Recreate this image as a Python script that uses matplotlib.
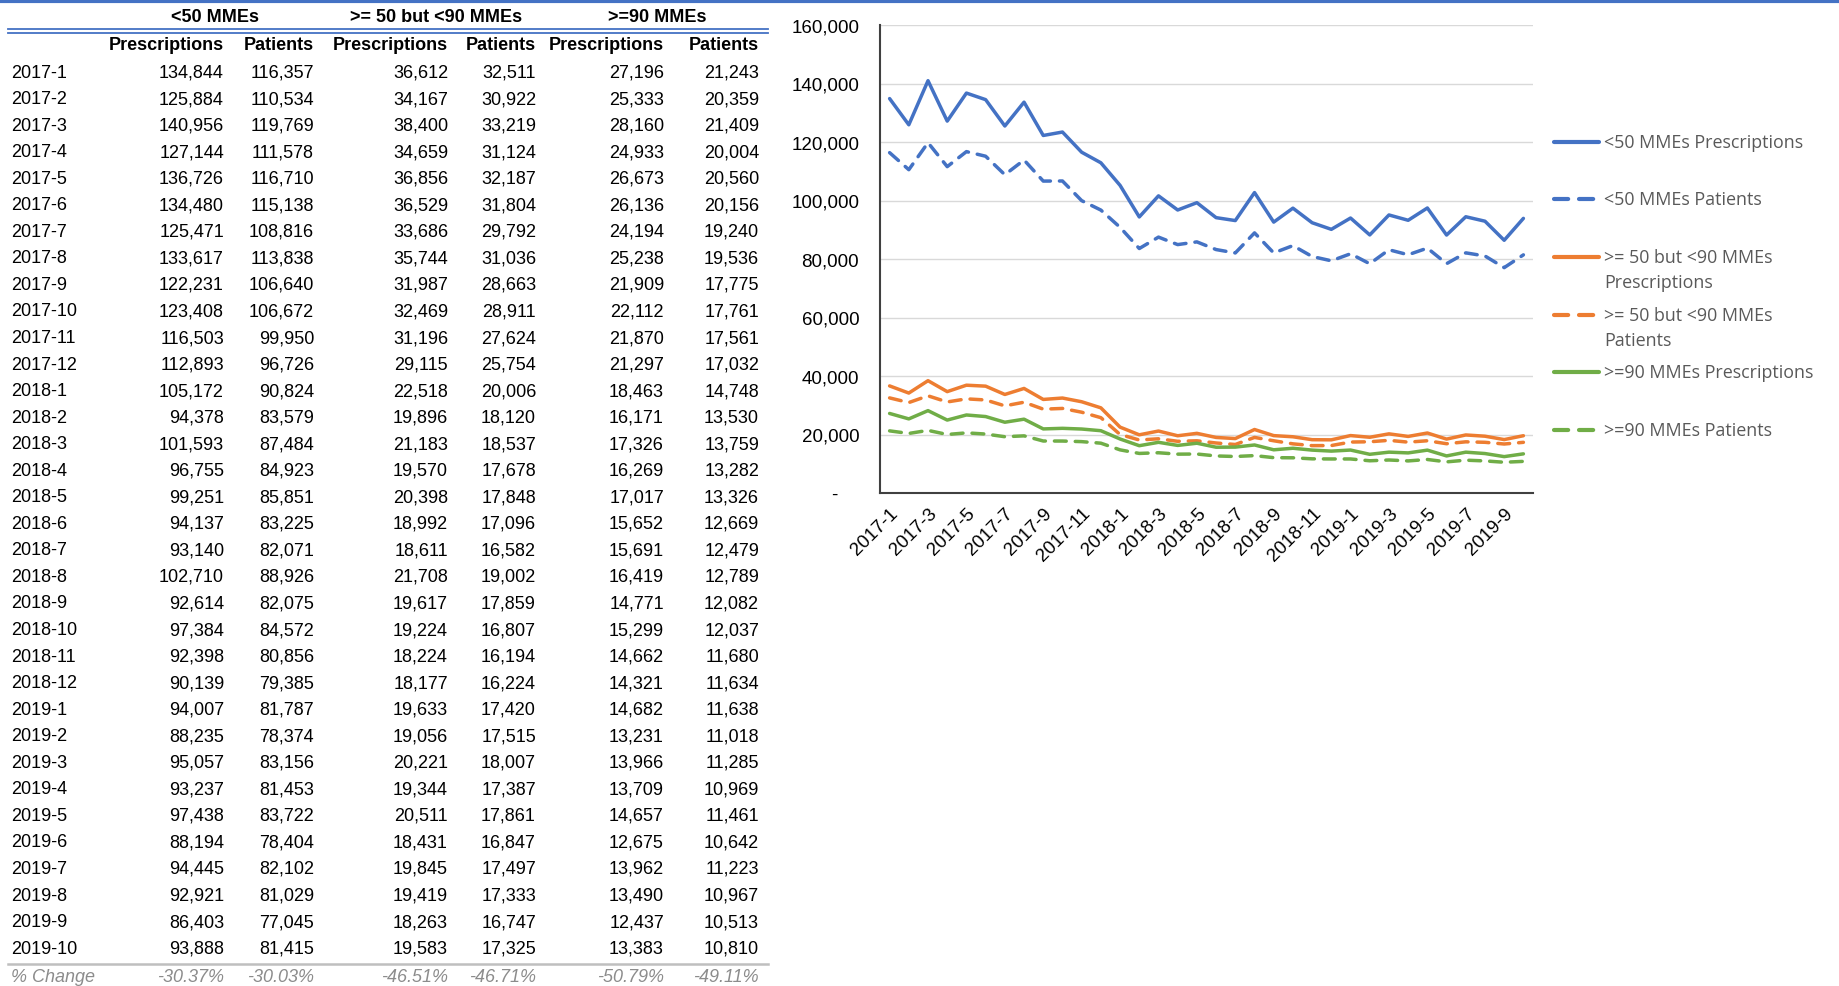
import matplotlib.pyplot as plt
from matplotlib.lines import Line2D
from matplotlib.ticker import FuncFormatter

# Months 2017-1 .. 2019-10
months = ([f"2017-{m}" for m in range(1, 13)] + [f"2018-{m}" for m in range(1, 13)]
          + [f"2019-{m}" for m in range(1, 11)])

lt50_rx = [134844, 125884, 140956, 127144, 136726, 134480, 125471, 133617, 122231, 123408, 116503, 112893,
           105172, 94378, 101593, 96755, 99251, 94137, 93140, 102710, 92614, 97384, 92398, 90139,
           94007, 88235, 95057, 93237, 97438, 88194, 94445, 92921, 86403, 93888]
lt50_pt = [116357, 110534, 119769, 111578, 116710, 115138, 108816, 113838, 106640, 106672, 99950, 96726,
           90824, 83579, 87484, 84923, 85851, 83225, 82071, 88926, 82075, 84572, 80856, 79385,
           81787, 78374, 83156, 81453, 83722, 78404, 82102, 81029, 77045, 81415]
mid_rx = [36612, 34167, 38400, 34659, 36856, 36529, 33686, 35744, 31987, 32469, 31196, 29115,
          22518, 19896, 21183, 19570, 20398, 18992, 18611, 21708, 19617, 19224, 18224, 18177,
          19633, 19056, 20221, 19344, 20511, 18431, 19845, 19419, 18263, 19583]
mid_pt = [32511, 30922, 33219, 31124, 32187, 31804, 29792, 31036, 28663, 28911, 27624, 25754,
          20006, 18120, 18537, 17678, 17848, 17096, 16582, 19002, 17859, 16807, 16194, 16224,
          17420, 17515, 18007, 17387, 17861, 16847, 17497, 17333, 16747, 17325]
hi_rx = [27196, 25333, 28160, 24933, 26673, 26136, 24194, 25238, 21909, 22112, 21870, 21297,
         18463, 16171, 17326, 16269, 17017, 15652, 15691, 16419, 14771, 15299, 14662, 14321,
         14682, 13231, 13966, 13709, 14657, 12675, 13962, 13490, 12437, 13383]
hi_pt = [21243, 20359, 21409, 20004, 20560, 20156, 19240, 19536, 17775, 17761, 17561, 17032,
         14748, 13530, 13759, 13282, 13326, 12669, 12479, 12789, 12082, 12037, 11680, 11634,
         11638, 11018, 11285, 10969, 11461, 10642, 11223, 10967, 10513, 10810]

pct_change = ["-30.37%", "-30.03%", "-46.51%", "-46.71%", "-50.79%", "-49.11%"]
groups = ["<50 MMEs", ">= 50 but <90 MMEs", ">=90 MMEs"]
subheads = ["Prescriptions", "Patients"] * 3
legend_labels = ["<50 MMEs Prescriptions", "<50 MMEs Patients",
                 ">= 50 but <90 MMEs\nPrescriptions", ">= 50 but <90 MMEs\nPatients",
                 ">=90 MMEs Prescriptions", ">=90 MMEs Patients"]

BLUE, ORANGE, GREEN = "#4472C4", "#ED7D31", "#70AD47"
W, H = 1839, 987
TFONT = "Liberation Sans"
FS = 13

fig = plt.figure(figsize=(W / 100, H / 100), dpi=100)


def fx(px):
    return px / W


def fy(py):
    return 1 - py / H


# blue strip at top of sheet
fig.add_artist(Line2D([0, 1], [fy(1.5), fy(1.5)], color=BLUE, lw=3, transform=fig.transFigure))

# ---- table ----
col_right = [224, 314, 448, 536, 664, 759]
group_centers = [215, 436, 657]
for g, cx in zip(groups, group_centers):
    fig.text(fx(cx), fy(17), g, ha="center", va="center", fontsize=FS,
             fontweight="bold", family=TFONT)
for yy in (29.5, 33.5):
    fig.add_artist(Line2D([fx(8), fx(768)], [fy(yy), fy(yy)], color=BLUE, lw=1.3,
                          transform=fig.transFigure))
for s, cx in zip(subheads, col_right):
    fig.text(fx(cx), fy(45), s, ha="right", va="center", fontsize=FS,
             fontweight="bold", family=TFONT)

cols = [lt50_rx, lt50_pt, mid_rx, mid_pt, hi_rx, hi_pt]
row0, dy = 73, 26.55
for i, m in enumerate(months):
    y = row0 + i * dy
    fig.text(fx(11), fy(y), m, ha="left", va="center", fontsize=FS, family=TFONT)
    for c, cx in zip(cols, col_right):
        fig.text(fx(cx), fy(y), f"{c[i]:,}", ha="right", va="center", fontsize=FS, family=TFONT)

y_last = row0 + len(months) * dy
fig.add_artist(Line2D([fx(8), fx(768)], [fy(y_last - 11), fy(y_last - 11)], color="#BFBFBF",
                      lw=1.8, transform=fig.transFigure))
fig.text(fx(11), fy(y_last + 2), "% Change", ha="left", va="center", fontsize=FS,
         style="italic", color="#8C8C8C", family=TFONT)
for p, cx in zip(pct_change, col_right):
    fig.text(fx(cx), fy(y_last + 2), p, ha="right", va="center", fontsize=FS,
             style="italic", color="#8C8C8C", family=TFONT)

# ---- chart ----
ax = fig.add_axes([fx(880), fy(494), fx(1533 - 880), (494 - 26) / H])
x = list(range(len(months)))
series = [(lt50_rx, BLUE, "-"), (lt50_pt, BLUE, "--"),
          (mid_rx, ORANGE, "-"), (mid_pt, ORANGE, "--"),
          (hi_rx, GREEN, "-"), (hi_pt, GREEN, "--")]
dash = (0, (3.4, 2.6))
for vals, col, ls in series:
    ax.plot(x, vals, color=col, lw=2.5, linestyle=dash if ls == "--" else "-",
            solid_capstyle="round", dash_capstyle="round", solid_joinstyle="round")

ax.set_xlim(-0.5, len(months) - 0.5)
ax.set_ylim(0, 160000)
ax.set_yticks(range(0, 160001, 20000))
ax.yaxis.set_major_formatter(FuncFormatter(lambda v, p: "-    " if v == 0 else f"{int(v):,}"))
ax.set_xticks(x[::2])
ax.set_xticklabels(months[::2], rotation=45, ha="right", va="top", rotation_mode="anchor")
ax.grid(axis="y", color="#D9D9D9", lw=1)
ax.set_axisbelow(True)
for s in ("top", "right"):
    ax.spines[s].set_visible(False)
for s in ("left", "bottom"):
    ax.spines[s].set_color("#404040")
    ax.spines[s].set_linewidth(1.5)
ax.tick_params(length=0, labelsize=13.5)
ax.tick_params(axis="y", pad=15)
ax.tick_params(axis="x", pad=8)
for lab in ax.get_xticklabels() + ax.get_yticklabels():
    lab.set_family(TFONT)

# legend drawn at the right of the plot
leg_y = [143, 200, 258, 316, 373, 431]
for (vals, col, ls), lab, ly in zip(series, legend_labels, leg_y):
    fig.add_artist(Line2D([fx(1554), fx(1599)], [fy(ly), fy(ly)], color=col, lw=3,
                          linestyle=dash if ls == "--" else "-", dash_capstyle="round",
                          solid_capstyle="round", transform=fig.transFigure))
    for k, part in enumerate(lab.split("\n")):
        fig.text(fx(1604), fy(ly + k * 25), part, ha="left", va="center", fontsize=12.9,
                 color="#595959", family="Open Sans")

fig.savefig("out.png", dpi=100)
